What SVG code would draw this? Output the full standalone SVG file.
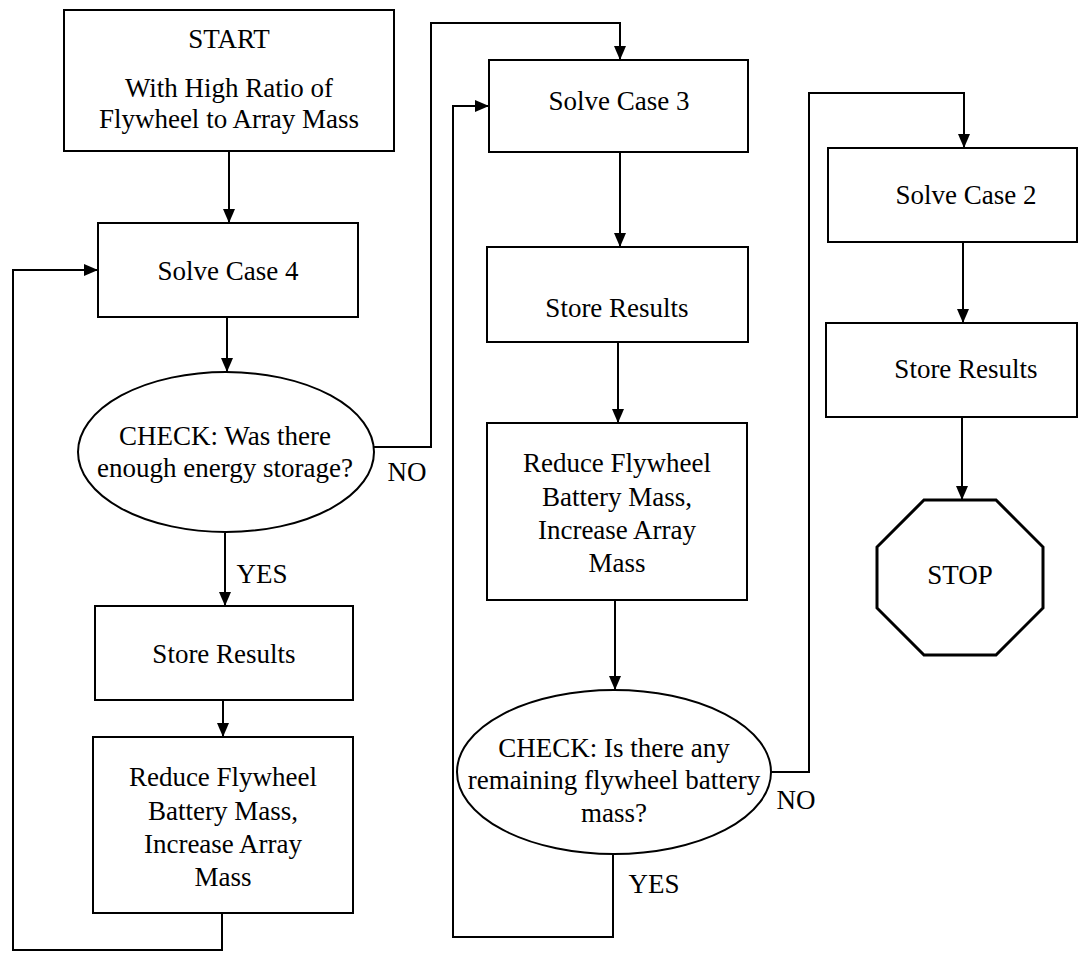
<svg xmlns="http://www.w3.org/2000/svg" width="1079" height="961" viewBox="0 0 1079 961">
<style>
.box{fill:#fff;stroke:#000;stroke-width:2}
.oct{fill:#fff;stroke:#000;stroke-width:3}
.t{font-family:"Liberation Serif","Times New Roman",serif;font-size:27px;fill:#000;text-anchor:middle}
.c{fill:none;stroke:#000;stroke-width:2}
.a{marker-end:url(#ah)}
</style>
<defs>
<marker id="ah" viewBox="0 0 14 12" refX="14" refY="6" markerWidth="14" markerHeight="12" markerUnits="userSpaceOnUse" orient="auto">
<path d="M0,0 L14,6 L0,12 z" fill="#000"/>
</marker>
</defs>
<rect width="1079" height="961" fill="#fff"/>
<g id="connectors">
<path class="c a" d="M229,151 V223"/>
<path class="c a" d="M227,317 V372"/>
<path class="c a" d="M225,533 V606"/>
<path class="c a" d="M223,700 V737"/>
<path class="c a" d="M222,913 V950 H13 V270 H98"/>
<path class="c a" d="M373,447 H431 V23 H620 V60"/>
<path class="c a" d="M620,152 V247"/>
<path class="c a" d="M618,342 V423"/>
<path class="c a" d="M615,600 V690"/>
<path class="c a" d="M613,854 V937 H453 V106 H489"/>
<path class="c a" d="M771,772 H809 V93 H964 V148"/>
<path class="c a" d="M963,242 V323"/>
<path class="c a" d="M962,417 V500"/>
<text class="t" x="407" y="481">NO</text>
<text class="t" x="262" y="583">YES</text>
<text class="t" x="796" y="809">NO</text>
<text class="t" x="654" y="893">YES</text>
</g>
<g id="start">
<rect class="box" x="64" y="10" width="330" height="141"/>
<text class="t" x="229" y="48">START</text>
<text class="t" x="229" y="97">With High Ratio of</text>
<text class="t" x="229" y="128">Flywheel to Array Mass</text>
</g>
<g id="solve4">
<rect class="box" x="98" y="223" width="260" height="94"/>
<text class="t" x="228" y="280">Solve Case 4</text>
</g>
<g id="check1">
<ellipse class="box" cx="226" cy="452" rx="148" ry="80"/>
<text class="t" x="225" y="445">CHECK: Was there</text>
<text class="t" x="225" y="477">enough energy storage?</text>
</g>
<g id="store1">
<rect class="box" x="95" y="606" width="258" height="94"/>
<text class="t" x="224" y="663">Store Results</text>
</g>
<g id="reduce1">
<rect class="box" x="93" y="737" width="260" height="176"/>
<text class="t" x="223" y="786">Reduce Flywheel</text>
<text class="t" x="223" y="820">Battery Mass,</text>
<text class="t" x="223" y="853">Increase Array</text>
<text class="t" x="223" y="886">Mass</text>
</g>
<g id="solve3">
<rect class="box" x="489" y="60" width="259" height="92"/>
<text class="t" x="619" y="110">Solve Case 3</text>
</g>
<g id="store2">
<rect class="box" x="487" y="247" width="261" height="95"/>
<text class="t" x="617" y="317">Store Results</text>
</g>
<g id="reduce2">
<rect class="box" x="487" y="423" width="260" height="177"/>
<text class="t" x="617" y="472">Reduce Flywheel</text>
<text class="t" x="617" y="506">Battery Mass,</text>
<text class="t" x="617" y="539">Increase Array</text>
<text class="t" x="617" y="572">Mass</text>
</g>
<g id="check2">
<ellipse class="box" cx="614" cy="772" rx="157" ry="82"/>
<text class="t" x="614" y="757">CHECK: Is there any</text>
<text class="t" x="614" y="789">remaining flywheel battery</text>
<text class="t" x="614" y="822">mass?</text>
</g>
<g id="solve2">
<rect class="box" x="828" y="148" width="249" height="94"/>
<text class="t" x="966" y="204">Solve Case 2</text>
</g>
<g id="store3">
<rect class="box" x="826" y="323" width="251" height="94"/>
<text class="t" x="966" y="378">Store Results</text>
</g>
<g id="stop">
<polygon class="oct" points="924,500 996,500 1043,547 1043,608 996,655 924,655 877,608 877,547"/>
<text class="t" x="960" y="584">STOP</text>
</g>
</svg>
